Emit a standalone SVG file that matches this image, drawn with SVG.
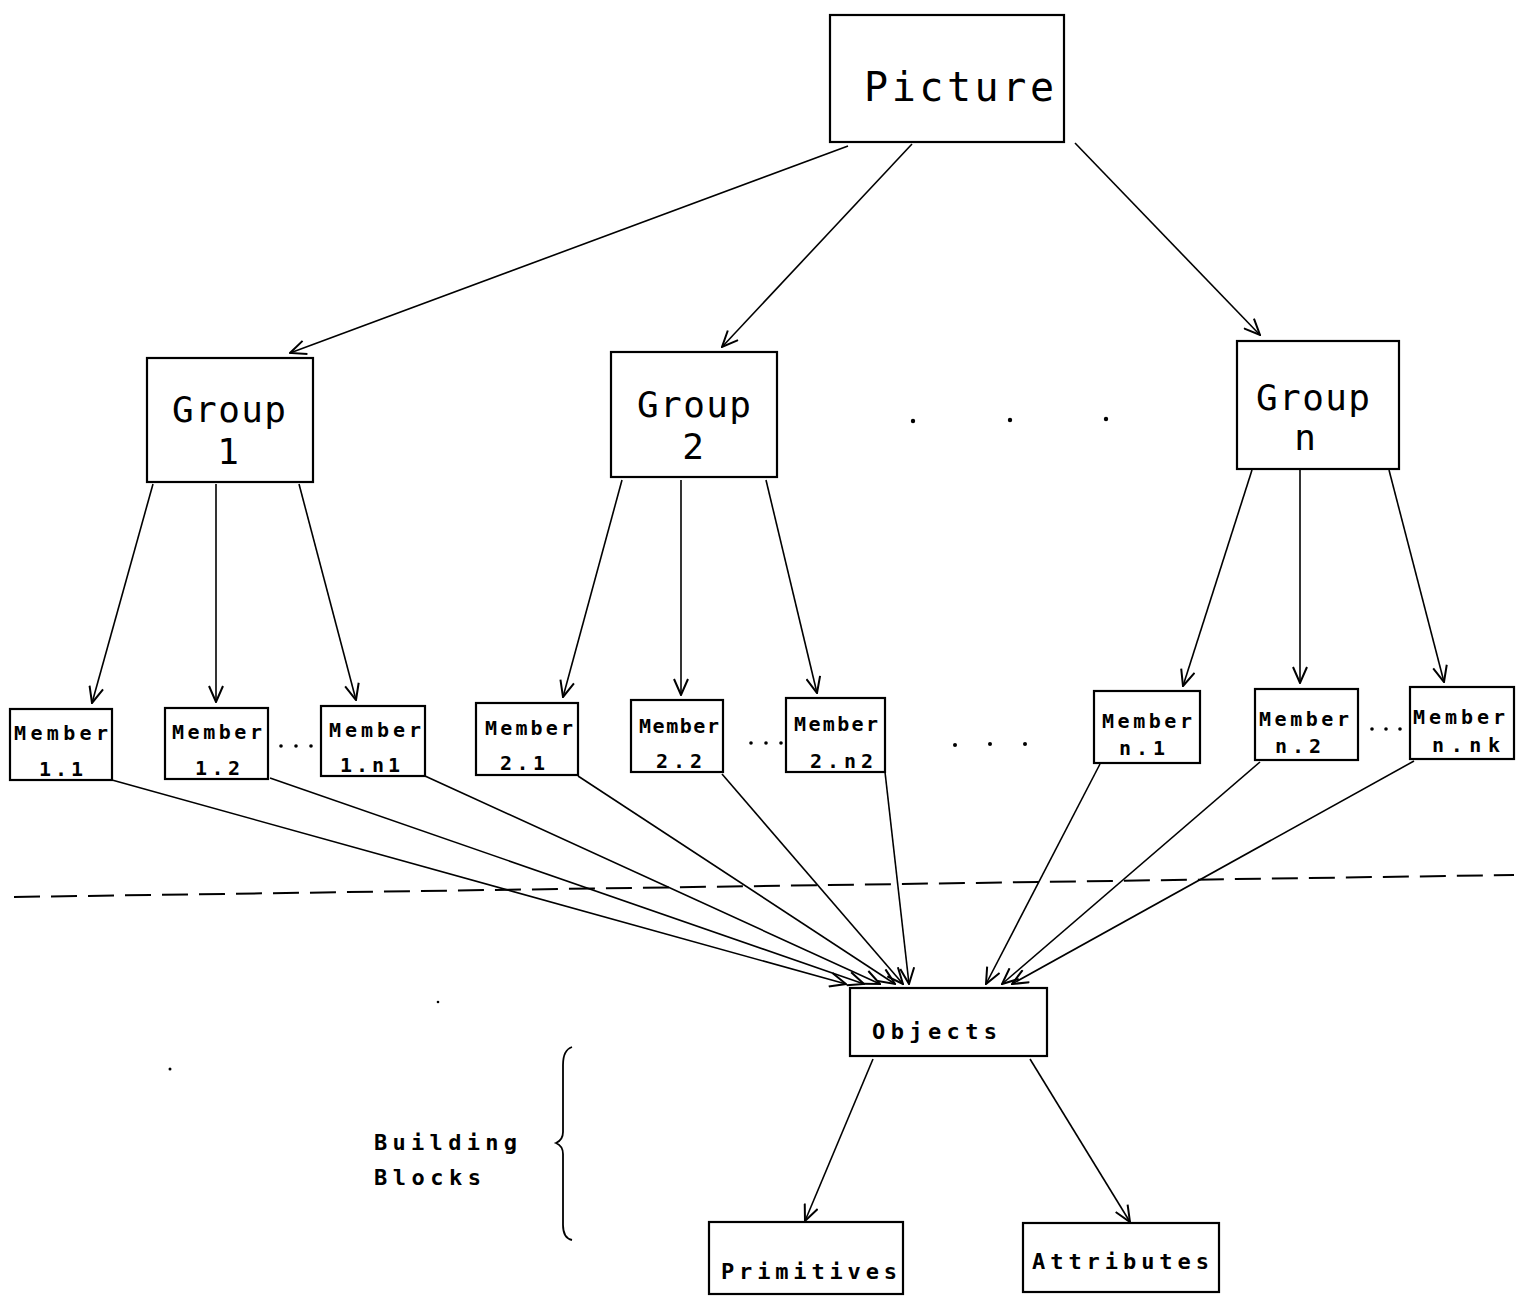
<svg xmlns="http://www.w3.org/2000/svg" width="1518" height="1302" viewBox="0 0 1518 1302">
<defs>
<marker id="arr" markerUnits="userSpaceOnUse" markerWidth="18" markerHeight="16" viewBox="0 0 18 16" refX="17" refY="8" orient="auto">
<path d="M1,1 L17,8 L1,15" fill="none" stroke="#000" stroke-width="2"/>
</marker>
<style>
.box{fill:#fff;stroke:#000;stroke-width:2.2}
.t{font-family:"DejaVu Sans Mono","Liberation Mono",monospace;fill:#000}
.big{font-size:40px}
.grp{font-size:36px}
.sm{font-size:20px;font-weight:bold}
.md{font-size:22px;font-weight:bold}
.c{stroke:#000;stroke-width:1.6;fill:none;marker-end:url(#arr)}
.dash{stroke:#000;stroke-width:2;stroke-dasharray:26 11;fill:none}
</style>
</defs>
<rect width="1518" height="1302" fill="#fff"/>

<g id="connectors">
<line class="c" x1="848" y1="146" x2="290" y2="353"/>
<line class="c" x1="912" y1="144" x2="722" y2="347"/>
<line class="c" x1="1075" y1="143" x2="1260" y2="335"/>
<line class="c" x1="153" y1="484" x2="92" y2="703"/>
<line class="c" x1="216" y1="484" x2="216" y2="702"/>
<line class="c" x1="299" y1="484" x2="356" y2="700"/>
<line class="c" x1="622" y1="480" x2="563" y2="697"/>
<line class="c" x1="681" y1="480" x2="681" y2="695"/>
<line class="c" x1="766" y1="480" x2="817" y2="693"/>
<line class="c" x1="1252" y1="470" x2="1183" y2="686"/>
<line class="c" x1="1300" y1="470" x2="1300" y2="683"/>
<line class="c" x1="1389" y1="470" x2="1444" y2="682"/>
<line class="c" x1="112" y1="780" x2="846" y2="984"/>
<line class="c" x1="270" y1="778" x2="864" y2="984"/>
<line class="c" x1="425" y1="776" x2="880" y2="984"/>
<line class="c" x1="578" y1="776" x2="895" y2="984"/>
<line class="c" x1="722" y1="774" x2="903" y2="984"/>
<line class="c" x1="885" y1="772" x2="909" y2="984"/>
<line class="c" x1="1100" y1="764" x2="986" y2="984"/>
<line class="c" x1="1260" y1="762" x2="1002" y2="984"/>
<line class="c" x1="1414" y1="761" x2="1012" y2="984"/>
<line class="c" x1="873" y1="1059" x2="805" y2="1221"/>
<line class="c" x1="1030" y1="1059" x2="1130" y2="1222"/>
</g>

<path class="dash" d="M14,897 L1514,875"/>

<g id="picture"><rect class="box" x="830" y="15" width="234" height="127"/>
<text class="t big" x="864" y="101" textLength="190" lengthAdjust="spacing">Picture</text></g>

<g id="group1"><rect class="box" x="147" y="358" width="166" height="124"/>
<text class="t grp" x="172" y="422" textLength="114" lengthAdjust="spacing">Group</text>
<text class="t grp" x="228" y="464" text-anchor="middle">1</text></g>

<g id="group2"><rect class="box" x="611" y="352" width="166" height="125"/>
<text class="t grp" x="637" y="417" textLength="114" lengthAdjust="spacing">Group</text>
<text class="t grp" x="693" y="459" text-anchor="middle">2</text></g>

<g id="groupn"><rect class="box" x="1237" y="341" width="162" height="128"/>
<text class="t grp" x="1256" y="410" textLength="114" lengthAdjust="spacing">Group</text>
<text class="t grp" x="1305" y="450" text-anchor="middle">n</text></g>

<g id="m11"><rect class="box" x="10" y="709" width="102" height="71"/>
<text class="t sm" x="14" y="740" textLength="94" lengthAdjust="spacing">Member</text>
<text class="t sm" x="39" y="776" textLength="44" lengthAdjust="spacing">1.1</text></g>

<g id="m12"><rect class="box" x="165" y="708" width="103" height="71"/>
<text class="t sm" x="172" y="739" textLength="90" lengthAdjust="spacing">Member</text>
<text class="t sm" x="195" y="775" textLength="45" lengthAdjust="spacing">1.2</text></g>

<g id="m1n1"><rect class="box" x="321" y="706" width="104" height="70"/>
<text class="t sm" x="329" y="737" textLength="92" lengthAdjust="spacing">Member</text>
<text class="t sm" x="340" y="772" textLength="60" lengthAdjust="spacing">1.n1</text></g>

<g id="m21"><rect class="box" x="476" y="703" width="102" height="72"/>
<text class="t sm" x="485" y="735" textLength="88" lengthAdjust="spacing">Member</text>
<text class="t sm" x="500" y="770" textLength="45" lengthAdjust="spacing">2.1</text></g>

<g id="m22"><rect class="box" x="631" y="700" width="92" height="72"/>
<text class="t sm" x="639" y="733" textLength="80" lengthAdjust="spacing">Member</text>
<text class="t sm" x="656" y="768" textLength="46" lengthAdjust="spacing">2.2</text></g>

<g id="m2n2"><rect class="box" x="786" y="698" width="99" height="74"/>
<text class="t sm" x="794" y="731" textLength="84" lengthAdjust="spacing">Member</text>
<text class="t sm" x="810" y="768" textLength="63" lengthAdjust="spacing">2.n2</text></g>

<g id="mn1"><rect class="box" x="1094" y="691" width="106" height="72"/>
<text class="t sm" x="1102" y="728" textLength="90" lengthAdjust="spacing">Member</text>
<text class="t sm" x="1119" y="755" textLength="46" lengthAdjust="spacing">n.1</text></g>

<g id="mn2"><rect class="box" x="1255" y="689" width="103" height="71"/>
<text class="t sm" x="1259" y="726" textLength="90" lengthAdjust="spacing">Member</text>
<text class="t sm" x="1275" y="753" textLength="46" lengthAdjust="spacing">n.2</text></g>

<g id="mnnk"><rect class="box" x="1410" y="687" width="104" height="72"/>
<text class="t sm" x="1413" y="724" textLength="92" lengthAdjust="spacing">Member</text>
<text class="t sm" x="1432" y="752" textLength="68" lengthAdjust="spacing">n.nk</text></g>

<g id="dots" fill="#000">
<circle cx="913" cy="421" r="2.2"/><circle cx="1010" cy="420" r="2.2"/><circle cx="1106" cy="419" r="2.2"/>
<circle cx="281" cy="746" r="1.8"/><circle cx="296" cy="746" r="1.8"/><circle cx="311" cy="746" r="1.8"/>
<circle cx="751" cy="743" r="1.8"/><circle cx="766" cy="743" r="1.8"/><circle cx="781" cy="743" r="1.8"/>
<circle cx="955" cy="745" r="2"/><circle cx="990" cy="744" r="2"/><circle cx="1025" cy="744" r="2"/>
<circle cx="1372" cy="729" r="1.8"/><circle cx="1386" cy="729" r="1.8"/><circle cx="1400" cy="729" r="1.8"/>
<circle cx="170" cy="1069" r="1.5"/><circle cx="438" cy="1002" r="1.3"/>
</g>

<g id="objects"><rect class="box" x="850" y="988" width="197" height="68"/>
<text class="t md" x="872" y="1039" textLength="125" lengthAdjust="spacing">Objects</text></g>

<g id="primitives"><rect class="box" x="709" y="1222" width="194" height="72"/>
<text class="t md" x="721" y="1279" textLength="176" lengthAdjust="spacing">Primitives</text></g>

<g id="attributes"><rect class="box" x="1023" y="1223" width="196" height="69"/>
<text class="t md" x="1032" y="1269" textLength="177" lengthAdjust="spacing">Attributes</text></g>

<g id="building-blocks">
<path d="M572,1047 Q563,1050 563,1065 L563,1132 Q563,1140 556,1143 Q563,1146 563,1154 L563,1225 Q563,1238 572,1240" fill="none" stroke="#000" stroke-width="1.8"/>
<text class="t md" x="374" y="1150" textLength="143" lengthAdjust="spacing">Building</text>
<text class="t md" x="374" y="1185" textLength="107" lengthAdjust="spacing">Blocks</text>
</g>
</svg>
